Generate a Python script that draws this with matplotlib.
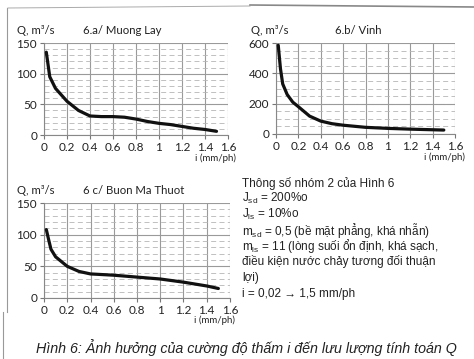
import matplotlib
matplotlib.use('Agg')
import matplotlib.pyplot as plt
from matplotlib.lines import Line2D

W, H = 474, 359

# ── Data ─────────────────────────────────────────────────────────────────────
i_a = [0.02, 0.05, 0.1, 0.2, 0.3, 0.4, 0.5, 0.6, 0.7, 0.8, 0.9, 1.0, 1.1, 1.2, 1.3, 1.4, 1.5]
q_a = [135, 95, 76, 55, 40, 31, 30, 30, 29, 26, 22, 19, 17, 14, 11, 9, 6]

i_b = [0.02, 0.04, 0.06, 0.1, 0.15, 0.2, 0.3, 0.4, 0.5, 0.6, 0.8, 1.0, 1.2, 1.4, 1.5]
q_b = [585, 430, 330, 260, 210, 180, 118, 85, 68, 58, 44, 37, 32, 28, 26]

i_c = [0.02, 0.04, 0.06, 0.1, 0.2, 0.3, 0.4, 0.6, 0.8, 1.0, 1.2, 1.4, 1.5]
q_c = [108, 92, 77, 65, 50, 42, 38, 36, 33, 30, 25, 19, 15]

x_ticks = [0, 0.2, 0.4, 0.6, 0.8, 1.0, 1.2, 1.4, 1.6]
x_ticklabels = ['0', '0.2', '0.4', '0.6', '0.8', '1', '1.2', '1.4', '1.6']

titles = ['6.a/ Muong Lay', '6.b/ Vinh', '6 c/ Buon Ma Thuot']

notes = ['Thông số nhóm 2 của Hình 6',
         r'J$_{\mathrm{sd}}$ = 200%o',
         r'J$_{\mathrm{ls}}$ = 10%o',
         r'm$_{\mathrm{sd}}$ = 0,5 (bề mặt phẳng, khá nhẵn)',
         r'm$_{\mathrm{ls}}$ = 11 (lòng suối ổn định, khá sạch,',
         'điều kiện nước chảy tương đối thuận',
         'lợi)',
         'i = 0,02 → 1,5 mm/ph']

caption = 'Hình 6: Ảnh hưởng của cường độ thấm i đến lưu lượng tính toán Q'

# ── Style ────────────────────────────────────────────────────────────────────
plt.rcParams['font.family'] = ['Lato', 'DejaVu Sans']
plt.rcParams['mathtext.fontset'] = 'custom'
plt.rcParams['mathtext.rm'] = 'Liberation Sans'
GRID = '#9a9a9a'
TXT = '#222222'

fig = plt.figure(figsize=(W / 100, H / 100), dpi=100)
fig.patch.set_facecolor('white')


def px_axes(l, t, r, b):
    return fig.add_axes([l / W, 1 - b / H, (r - l) / W, (b - t) / H])


def px_text(x, y, s, **kw):
    fig.text(x / W, 1 - y / H, s, **kw)


def panel(ax, x, y, ymax, ystep, yminor):
    ax.plot(x, y, color='#111111', lw=2.3, solid_capstyle='round', zorder=3)
    ax.set_xlim(0, 1.6)
    ax.set_ylim(0, ymax)
    ax.set_xticks(x_ticks)
    ax.set_xticklabels(x_ticklabels)
    ax.set_yticks(range(0, ymax + 1, ystep))
    ax.set_yticks(range(0, ymax + 1, yminor), minor=True)
    ax.grid(True, which='major', color=GRID, lw=0.8)
    ax.grid(True, which='minor', axis='y', color='#b5b5b5', lw=0.6, ls=(0, (6, 4)))
    ax.tick_params(which='major', direction='out', length=3, width=0.8,
                   color='#777777', labelsize=8.5, labelcolor=TXT, pad=2)
    ax.tick_params(which='minor', length=0)
    for sp in ax.spines.values():
        sp.set_color('#888888')
        sp.set_linewidth(0.8)
    ax.spines['top'].set_visible(False)
    ax.spines['right'].set_visible(False)
    ax.set_axisbelow(True)


ax_a = px_axes(44, 43, 228, 135)
panel(ax_a, i_a, q_a, 150, 50, 10)
ax_b = px_axes(276, 43, 455, 134)
panel(ax_b, i_b, q_b, 600, 200, 50)
ax_c = px_axes(44, 203, 230, 298)
panel(ax_c, i_c, q_c, 150, 50, 10)

# panel headers
hdr = dict(fontsize=8.2, color=TXT, va='center')
px_text(17, 30, 'Q, m³/s', **hdr)
px_text(83, 30, titles[0], **hdr)
px_text(251, 30, 'Q, m³/s', **hdr)
px_text(335, 30, titles[1], **hdr)
px_text(17, 190, 'Q, m³/s', **hdr)
px_text(83, 190, titles[2], **hdr)

# axis labels
lab = dict(fontsize=7, color=TXT, ha='right', va='center')
px_text(236, 158, 'i (mm/ph)', **lab)
px_text(465, 157, 'i (mm/ph)', **lab)
px_text(235, 320, 'i (mm/ph)', **lab)

# parameter notes
for k, line in enumerate(notes):
    px_text(242, 183 + k * 15.8, line, fontsize=8.5, color=TXT, va='center',
            family=['Liberation Sans', 'DejaVu Sans'])

# caption
px_text(36, 348, caption, fontsize=10.3, color=TXT, va='center', style='italic',
        family=['Liberation Sans', 'DejaVu Sans'])

# scan border lines
fig.add_artist(Line2D([7 / W, 7 / W], [1 - 8 / H, 1 - 312 / H], color='#999999', lw=0.8))
fig.add_artist(Line2D([3 / W, 3 / W], [1 - 312 / H, 0], color='#999999', lw=0.8))
fig.add_artist(Line2D([8 / W, 250 / W], [1 - 8 / H, 1 - 6 / H], color='#aaaaaa', lw=0.7))
fig.add_artist(Line2D([250 / W, 474 / W], [1 - 5 / H, 1 - 7 / H], color='#888888', lw=1.2))

fig.savefig('out.png', dpi=100, facecolor='white')
